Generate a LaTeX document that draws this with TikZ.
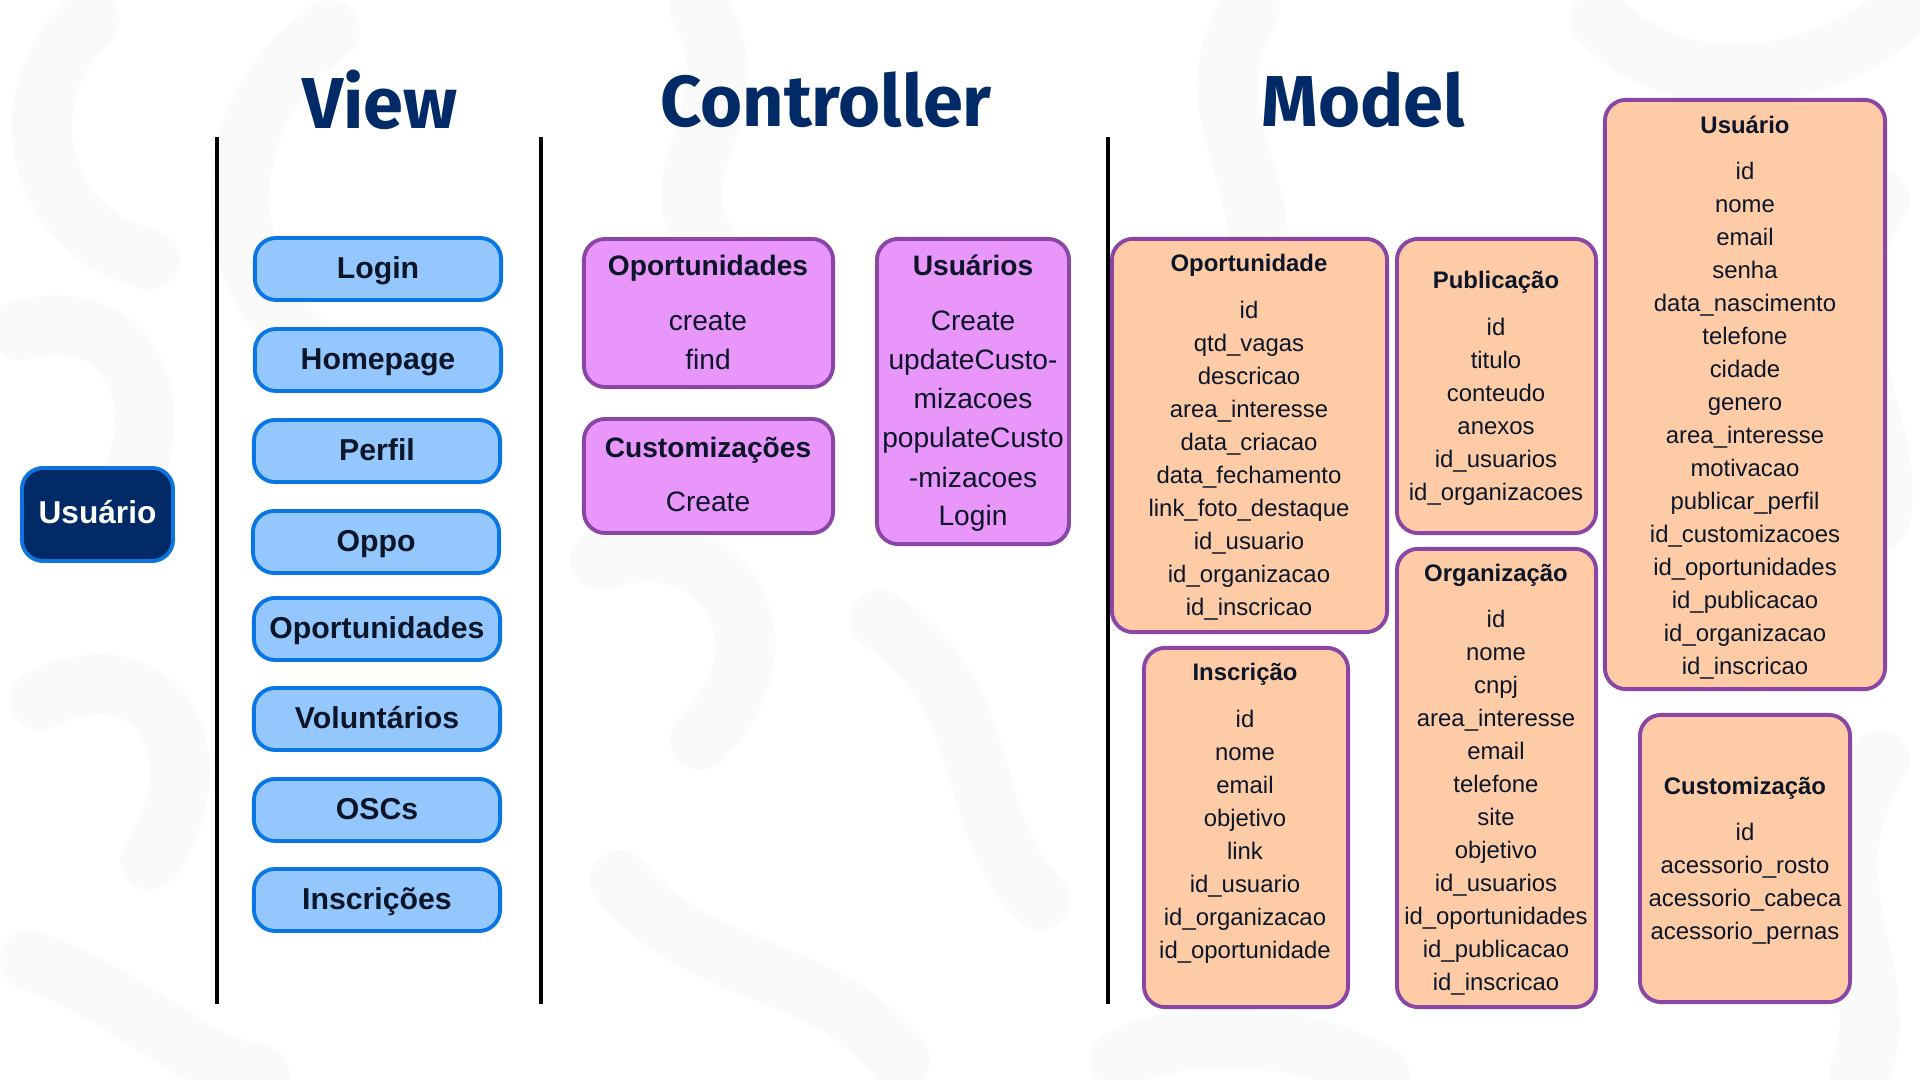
\documentclass[tikz,border=0pt]{standalone}
\usepackage{fontspec}
\setmainfont{Liberation Sans}
\newfontfamily\titlefont{Fira Sans}
\definecolor{navy}{RGB}{1,42,102}
\definecolor{ubord}{RGB}{13,116,224}
\definecolor{vfill}{RGB}{148,199,253}
\definecolor{vbord}{RGB}{10,118,228}
\definecolor{cfill}{RGB}{233,150,250}
\definecolor{pbord}{RGB}{138,69,165}
\definecolor{mfill}{RGB}{253,204,166}
\definecolor{ink}{RGB}{12,22,40}
\definecolor{swirl}{RGB}{250,250,250}
\tikzset{
  bgswirl/.style={draw=swirl, line width=17pt, line cap=round},
  coltitle/.style={font=\titlefont\bfseries\fontsize{20.5}{24}\selectfont, text=navy, inner sep=0pt},
  sepline/.style={draw=black, line width=1.1pt},
  userbox/.style={draw=ubord, fill=navy, line width=1.1pt, rounded corners=6pt, inner sep=0pt,
    text=white, font=\bfseries\fontsize{9}{11}\selectfont, text height=0.72em, text depth=0.2em},
  viewbox/.style={draw=vbord, fill=vfill, line width=1.1pt, rounded corners=6pt, inner sep=0pt,
    minimum width=2.46cm, minimum height=0.62cm, text=ink, font=\bfseries\fontsize{8.6}{10}\selectfont,
    text height=0.72em, text depth=0.2em},
  ctrlbox/.style={draw=pbord, fill=cfill, line width=1.1pt, rounded corners=6pt, inner sep=0pt},
  ctitle/.style={text=ink, font=\bfseries\fontsize{8}{10}\selectfont, inner sep=0pt, text height=0.72em, text depth=0.2em},
  citem/.style={text=ink, font=\fontsize{8}{10}\selectfont, inner sep=0pt, text height=0.72em, text depth=0.2em},
  modbox/.style={draw=pbord, fill=mfill, line width=1.1pt, rounded corners=6pt, inner sep=0pt},
  mtitle/.style={text=ink, font=\bfseries\fontsize{6.8}{8}\selectfont, inner sep=0pt, text height=0.72em, text depth=0.2em},
  mitem/.style={text=ink, font=\fontsize{6.8}{8}\selectfont, inner sep=0pt, text height=0.72em, text depth=0.2em},
}
\newcommand\mentity[6]{%
  \node[mtitle] (#1-t) at (#2,#3) {#4};
  \foreach \lbl [count=\i from 0] in {#6}
    \node[mitem] (#1-\i) at (#2,#5+\i*33) {\lbl};
}
\begin{document}
\begin{tikzpicture}[x=0.01cm,y=-0.01cm]
\useasboundingbox[fill=white] (0,0) rectangle (1920,1080);

% faint background swirls
\draw[bgswirl] (90,20) .. controls (10,90) and (30,230) .. (150,260);
\draw[bgswirl] (330,30) .. controls (200,120) and (220,300) .. (330,360);
\draw[bgswirl] (700,10) .. controls (760,120) and (640,170) .. (720,260);
\draw[bgswirl] (1250,10) .. controls (1180,120) and (1300,200) .. (1240,300);
\draw[bgswirl] (1600,20) .. controls (1700,120) and (1860,60) .. (1900,10);
\draw[bgswirl] (20,330) .. controls (140,300) and (180,420) .. (110,520);
\draw[bgswirl] (40,700) .. controls (160,640) and (220,760) .. (150,860);
\draw[bgswirl] (30,960) .. controls (140,1000) and (180,1060) .. (260,1075);
\draw[bgswirl] (600,560) .. controls (720,520) and (800,640) .. (700,740);
\draw[bgswirl] (880,620) .. controls (1000,700) and (960,820) .. (1040,900);
\draw[bgswirl] (620,880) .. controls (700,980) and (820,960) .. (900,1060);
\draw[bgswirl] (1880,200) .. controls (1800,320) and (1900,420) .. (1880,520);
\draw[bgswirl] (1880,760) .. controls (1800,880) and (1900,980) .. (1860,1070);
\draw[bgswirl] (1120,1060) .. controls (1200,1020) and (1320,1040) .. (1380,1075);

% column titles
\node[coltitle] (tView) at (380,100) {View};
\node[coltitle] (tCtrl) at (826,100) {Controller};
\node[coltitle] (tModel) at (1363,100) {Model};

% separators
\coordinate (l1t) at (217,137); \coordinate (l1b) at (217,1004);
\coordinate (l2t) at (541,137); \coordinate (l2b) at (541,1004);
\coordinate (l3t) at (1108,137); \coordinate (l3b) at (1108,1004);
\draw[sepline] (l1t) -- (l1b);
\draw[sepline] (l2t) -- (l2b);
\draw[sepline] (l3t) -- (l3b);

% user actor
\node[userbox, minimum width=1.51cm, minimum height=0.93cm] (actor) at (97.5,514.5) {Usuário};

% view boxes
\node[viewbox] (vLogin) at (378,269) {Login};
\node[viewbox] (vHome) at (378,360) {Homepage};
\node[viewbox] (vPerfil) at (377,451) {Perfil};
\node[viewbox] (vOppo) at (376,542) {Oppo};
\node[viewbox] (vOport) at (377,629) {Oportunidades};
\node[viewbox] (vVol) at (377,719) {Voluntários};
\node[viewbox] (vOSC) at (377,810) {OSCs};
\node[viewbox] (vInsc) at (377,900) {Inscrições};

% controller boxes
\node[ctrlbox, minimum width=2.49cm, minimum height=1.48cm] (cOpp) at (708.5,313) {};
\node[ctitle] (cOpp-t) at (708,266) {Oportunidades};
\node[citem] (cOpp-1) at (708,321) {create};
\node[citem] (cOpp-2) at (708,360) {find};

\node[ctrlbox, minimum width=2.49cm, minimum height=1.14cm] (cCus) at (708.5,476) {};
\node[ctitle] (cCus-t) at (708,448) {Customizações};
\node[citem] (cCus-1) at (708,502) {Create};

\node[ctrlbox, minimum width=1.92cm, minimum height=3.05cm] (cUsr) at (973,391.5) {};
\node[ctitle] (cUsr-t) at (973,266) {Usuários};
\node[citem] (cUsr-1) at (973,321) {Create};
\node[citem] (cUsr-2) at (973,360) {updateCusto-};
\node[citem] (cUsr-3) at (973,399) {mizacoes};
\node[citem] (cUsr-4) at (973,438) {populateCusto};
\node[citem] (cUsr-5) at (973,478) {-mizacoes};
\node[citem] (cUsr-6) at (973,516) {Login};

% model boxes
\node[modbox, minimum width=2.75cm, minimum height=3.93cm] (mOpp) at (1249.5,435.5) {};
\node[modbox, minimum width=1.99cm, minimum height=2.94cm] (mPub) at (1496.5,386) {};
\node[modbox, minimum width=2.80cm, minimum height=5.89cm] (mUsr) at (1745,394.5) {};
\node[modbox, minimum width=1.99cm, minimum height=4.58cm] (mOrg) at (1496.5,778) {};
\node[modbox, minimum width=2.04cm, minimum height=3.59cm] (mIns) at (1246,827.5) {};
\node[modbox, minimum width=2.10cm, minimum height=2.87cm] (mCus) at (1745,858.5) {};

\mentity{eOpp}{1249}{262}{Oportunidade}{309}{id,qtd\_vagas,descricao,area\_interesse,data\_criacao,data\_fechamento,link\_foto\_destaque,id\_usuario,id\_organizacao,id\_inscricao}
\mentity{ePub}{1496}{279}{Publicação}{326}{id,titulo,conteudo,anexos,id\_usuarios,id\_organizacoes}
\mentity{eUsr}{1745}{124}{Usuário}{170}{id,nome,email,senha,data\_nascimento,telefone,cidade,genero,area\_interesse,motivacao,publicar\_perfil,id\_customizacoes,id\_oportunidades,id\_publicacao,id\_organizacao,id\_inscricao}
\mentity{eOrg}{1496}{572}{Organização}{618}{id,nome,cnpj,area\_interesse,email,telefone,site,objetivo,id\_usuarios,id\_oportunidades,id\_publicacao,id\_inscricao}
\mentity{eIns}{1245}{671}{Inscrição}{718}{id,nome,email,objetivo,link,id\_usuario,id\_organizacao,id\_oportunidade}
\mentity{eCus}{1745}{785}{Customização}{831}{id,acessorio\_rosto,acessorio\_cabeca,acessorio\_pernas}
\end{tikzpicture}
\end{document}
